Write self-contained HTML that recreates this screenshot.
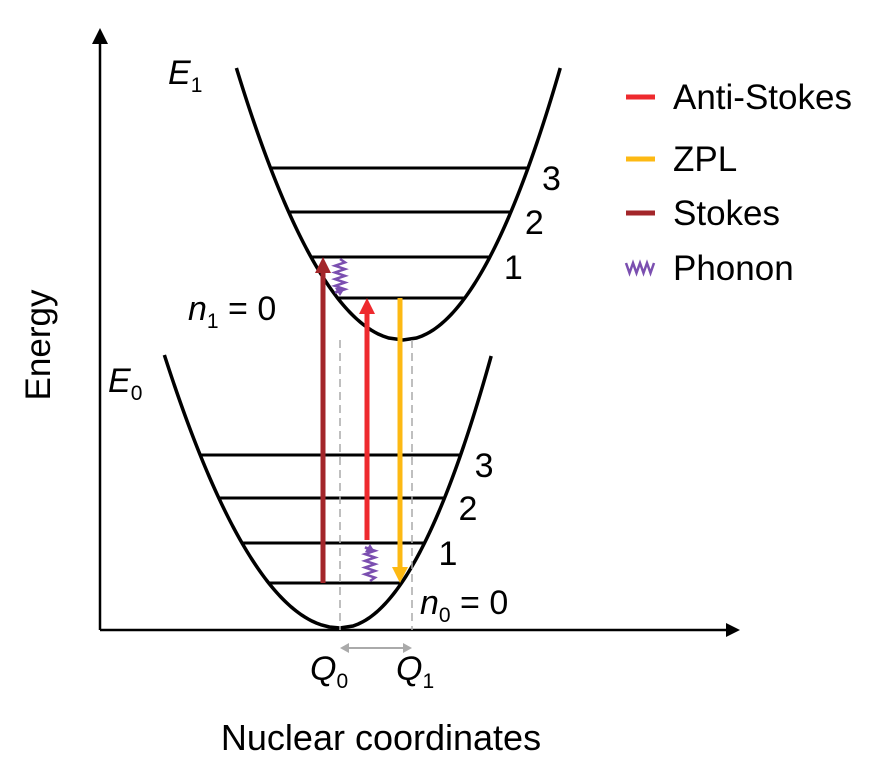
<!DOCTYPE html>
<html><head><meta charset="utf-8"><style>
body{margin:0;background:#fff}
svg{display:block;font-family:"Liberation Sans",sans-serif}
</style></head><body>
<svg id="s" width="882" height="770" viewBox="0 0 882 770">
<g id="axes">
<line x1="100" y1="630" x2="100" y2="42" stroke="#000" stroke-width="2.5"/>
<path d="M92,44 L100,28 L108,44z" fill="#000"/>
<line x1="100" y1="630" x2="728" y2="630" stroke="#000" stroke-width="2.5"/>
<path d="M726,623 L740,630 L726,637z" fill="#000"/>
</g>
<text x="50" y="345" font-size="35" text-anchor="middle" transform="rotate(-90 50 345)">Energy</text>
<text x="381" y="750" font-size="36" text-anchor="middle">Nuclear coordinates</text>
<text x="168" y="84" font-size="34" font-style="italic">E<tspan font-size="21" font-style="normal" dy="8">1</tspan></text>
<text x="108" y="392" font-size="34" font-style="italic">E<tspan font-size="21" font-style="normal" dy="8">0</tspan></text>
<text x="188" y="320" font-size="34"><tspan font-style="italic">n</tspan><tspan font-size="21" dy="8">1</tspan><tspan dy="-8"> = 0</tspan></text>
<text x="420" y="614" font-size="34"><tspan font-style="italic">n</tspan><tspan font-size="21" dy="8">0</tspan><tspan dy="-8"> = 0</tspan></text>
<text x="310" y="680" font-size="34" font-style="italic">Q<tspan font-size="21" font-style="normal" dy="8">0</tspan></text>
<text x="396" y="680" font-size="34" font-style="italic">Q<tspan font-size="21" font-style="normal" dy="8">1</tspan></text>
<g id="legend"></g>
</svg>
<script>
const NS="http://www.w3.org/2000/svg";
const svg=document.getElementById('s');
const wellNames=["lower-well","upper-well"];
const wellVx=[340,403];
const wellVy=[628,340];
const wellKL=[0.00885,0.0098];
const wellKR=[0.0119,0.011];
const wellTop=[355,68];
const lowerLevels=[583,543,498,455];
const upperLevels=[298,257,212,168];
const lowerLabels=["","1","2","3"];
const upperLabels=["","1","2","3"];
const transNames=["stokes-arrow","anti-stokes-arrow","zpl-arrow"];
const transX=[323,367,400];
const transFrom=[583,540,298];
const transTo=[257,298,583];
const transColor=["#a3262a","#ee2a2e","#fdb913"];
const legendNames=["Anti-Stokes","ZPL","Stokes","Phonon"];
const legendColors=["#ee2a2e","#fdb913","#a3262a","#7b4fb0"];

function el(t,a,p){const e=document.createElementNS(NS,t);for(const k in a)e.setAttribute(k,a[k]);(p||svg).appendChild(e);return e;}
function xAt(w,y,side){const k=side<0?wellKL[w]:wellKR[w];return wellVx[w]+side*Math.sqrt(Math.max(0,wellVy[w]-y)/k);}

for(let w=0;w<2;w++){
  let pts=[];
  for(let y=wellTop[w];y<=wellVy[w];y+=2)pts.push([xAt(w,y,-1),y]);
  for(let y=wellVy[w];y>=wellTop[w];y-=2)pts.push([xAt(w,y,1),y]);
  const p=el('polyline',{points:pts.map(q=>q.join(',')).join(' '),fill:'none',stroke:'#000','stroke-width':3.5});
  
  
  const lv=w===0?lowerLevels:upperLevels, lb=w===0?lowerLabels:upperLabels;
  lv.forEach((y,i)=>{
    const l=el('line',{x1:xAt(w,y,-1)-1,x2:xAt(w,y,1)+1,y1:y,y2:y,stroke:'#000','stroke-width':3});
    
    
    if(lb[i]){const t=el('text',{x:xAt(w,y,1)+14,y:y+22,'font-size':34});t.textContent=lb[i];
      
      }
  });
}
[wellVx[0],412].forEach((x,i)=>{const l=el('line',{x1:x,x2:x,y1:340,y2:630,stroke:'#aaa','stroke-width':1.5,'stroke-dasharray':'8,5'});
  
  });
const da=el('line',{x1:346,x2:406,y1:648,y2:648,stroke:'#aaa','stroke-width':2});


el('path',{d:'M340,648 l9,-5 v10z M412,648 l-9,-5 v10z',fill:'#aaa'});
transX.forEach((x,i)=>{
  const up=transTo[i]<transFrom[i], tip=transTo[i], c=transColor[i];
  const end=up?tip+14:tip-14;
  const l=el('line',{x1:x,x2:x,y1:transFrom[i],y2:end,stroke:c,'stroke-width':5});
  
  
  const d=up?`M${x},${tip} l-8,16 h16z`:`M${x},${tip} l-8,-16 h16z`;
  el('path',{d,fill:c});
});
function squig(x,y1,y2,name){
  const n=5,h=(y2-y1)/(n*2+1);let d=`M${x},${y1}`;
  for(let i=0;i<n*2;i++)d+=` L${x+(i%2?-5:5)},${y1+h*(i+1)}`;
  d+=` L${x},${y2-(y2>y1?6:-6)}`;
  const p=el('path',{d,fill:'none',stroke:'#7b4fb0','stroke-width':2.5});
  
  
  const s=y2>y1?-1:1;
  el('path',{d:`M${x},${y2} l-5,${8*s} h10z`,fill:'#7b4fb0'});
}
squig(340,259,296,'phonon-relaxation-upper');
squig(370,581,544,'phonon-excitation-lower');
const lg=document.getElementById('legend');
const ly=[97,159,213,268];
legendNames.forEach((n,i)=>{
  if(i<3){const l=el('line',{x1:626,x2:655,y1:ly[i],y2:ly[i],stroke:legendColors[i],'stroke-width':5},lg);
    
    }
  else{const p=el('path',{d:`M626,${ly[i]-5} l3.5,10 l3.5,-10 l3.5,10 l3.5,-10 l3.5,10 l3.5,-10 l3.5,10 l3.5,-10`,fill:'none',stroke:legendColors[i],'stroke-width':2.5},lg);
    
    }
  const t=el('text',{x:673,y:ly[i]+12,'font-size':35},lg);t.textContent=n;
  
  
});
</script>
</body></html>
